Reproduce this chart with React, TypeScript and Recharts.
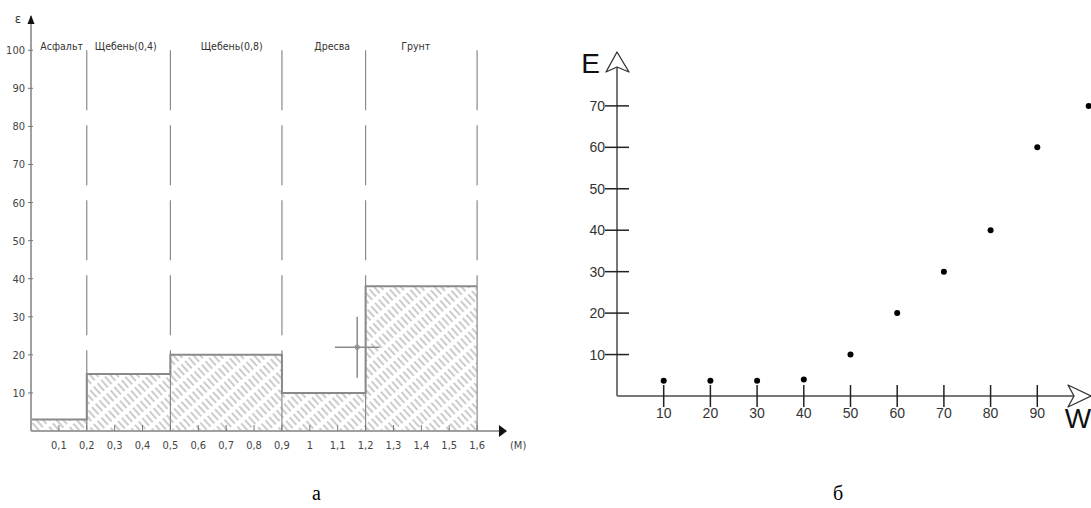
import React from 'react'
import {
  ComposedChart,
  ScatterChart,
  Area,
  Scatter,
  ErrorBar,
  XAxis,
  YAxis,
  ReferenceLine,
  ReferenceDot,
} from 'recharts'

// --- chart "а": layers along the depth ---
const layerNames = ['Асфальт', 'Щебень(0,4)', 'Щебень(0,8)', 'Дресва', 'Грунт']
const layerFrom = [0, 0.2, 0.5, 0.9, 1.2]
const layerTo = [0.2, 0.5, 0.9, 1.2, 1.6]
const layerEps = [3, 15, 20, 10, 38]
const layerLabelAt = [0.11, 0.34, 0.72, 1.08, 1.38]
const depthTicks = [0.1, 0.2, 0.3, 0.4, 0.5, 0.6, 0.7, 0.8, 0.9, 1, 1.1, 1.2, 1.3, 1.4, 1.5, 1.6]
const epsTicks = [10, 20, 30, 40, 50, 60, 70, 80, 90, 100]
const markDepth = [1.17]
const markEps = [22]
const markDepthErr = [0.08]
const markEpsErr = [8]

// --- chart "б": E against W ---
const moisture = [10, 20, 30, 40, 50, 60, 70, 80, 90, 101]
const modulus = [3.7, 3.7, 3.7, 4, 10, 20, 30, 40, 60, 70]
const wTicks = [10, 20, 30, 40, 50, 60, 70, 80, 90]
const eTicks = [10, 20, 30, 40, 50, 60, 70]

const narrow = "'Liberation Sans Narrow', 'DejaVu Sans Condensed', sans-serif"
const sans = "'Liberation Sans', Arial, sans-serif"

const stepData = layerFrom
  .map((x, i) => ({ x, h: layerEps[i] }))
  .concat({ x: layerTo[layerTo.length - 1], h: layerEps[layerEps.length - 1] })
const markData = markDepth.map((x, i) => ({ x, y: markEps[i], ex: markDepthErr[i], ey: markEpsErr[i] }))
const pointData = moisture.map((w, i) => ({ w, e: modulus[i] }))

const commaNum = (v: number) => String(v).replace('.', ',')

function LayersChart() {
  return (
    <ComposedChart width={540} height={470} margin={{ top: 16, right: 35, bottom: 0, left: 0 }}>
      <defs>
        <pattern id="hatch" patternUnits="userSpaceOnUse" width={5} height={14} patternTransform="rotate(-42)">
          <rect width={5} height={14} fill="#fff" />
          <line x1={1} y1={0} x2={1} y2={14} stroke="#9a9a9a" strokeWidth={1} strokeDasharray="10 4" />
        </pattern>
      </defs>
      <XAxis
        dataKey="x"
        type="number"
        domain={[0, 1.7]}
        ticks={depthTicks}
        height={39}
        tickSize={0}
        tickMargin={0}
        axisLine={{ stroke: '#a0a0a0', strokeWidth: 2 }}
        tickLine={false}
        allowDataOverflow
        tick={(p: any) => (
          <g>
            <line x1={p.x} y1={p.y - 6} x2={p.x} y2={p.y} stroke="#777" strokeWidth={1} />
            <text x={p.x} y={p.y + 18} textAnchor="middle" fontSize={11} fontFamily={narrow} fill="#444">
              {commaNum(p.payload.value)}
            </text>
          </g>
        )}
      />
      <YAxis
        type="number"
        domain={[0, 109]}
        ticks={epsTicks}
        width={31}
        tickSize={0}
        tickMargin={0}
        axisLine={{ stroke: '#a0a0a0', strokeWidth: 2 }}
        tickLine={false}
        allowDataOverflow
        tick={(p: any) => (
          <g>
            <line x1={p.x - 3} y1={p.y} x2={p.x + 2} y2={p.y} stroke="#777" strokeWidth={1} />
            <text x={p.x - 6} y={p.y + 4} textAnchor="end" fontSize={11} fontFamily={narrow} fill="#444">
              {p.payload.value}
            </text>
          </g>
        )}
      />
      <Area
        data={stepData}
        dataKey="h"
        type="stepAfter"
        stroke="#8a8a8a"
        strokeWidth={2}
        fill="url(#hatch)"
        fillOpacity={1}
        isAnimationActive={false}
      />
      {layerTo.map((b, i) => {
        const top = Math.max(layerEps[i], layerEps[i + 1] ?? 0)
        return (
          <React.Fragment key={b}>
            <ReferenceLine segment={[{ x: b, y: 0 }, { x: b, y: top }]} stroke="#8a8a8a" strokeWidth={1.2} ifOverflow="visible" />
            <ReferenceLine
              segment={[{ x: b, y: 100 }, { x: b, y: top }]}
              stroke="#8a8a8a"
              strokeWidth={1.2}
              strokeDasharray="60 15"
              ifOverflow="visible"
            />
          </React.Fragment>
        )
      })}
      {layerNames.map((name, i) => (
        <ReferenceDot
          key={name}
          x={layerLabelAt[i]}
          y={100}
          ifOverflow="visible"
          shape={(p: any) => (
            <text x={p.cx} y={p.cy} textAnchor="middle" fontSize={10.5} fontFamily={narrow} fill="#333">
              {name}
            </text>
          )}
        />
      ))}
      <Scatter
        data={markData}
        dataKey="y"
        isAnimationActive={false}
        shape={(p: any) => <circle cx={p.cx} cy={p.cy} r={2.2} fill="none" stroke="#8a8a8a" strokeWidth={1} />}
      >
        <ErrorBar dataKey="ex" direction="x" width={0} stroke="#8a8a8a" strokeWidth={1.5} isAnimationActive={false} />
        <ErrorBar dataKey="ey" direction="y" width={0} stroke="#8a8a8a" strokeWidth={1.5} isAnimationActive={false} />
      </Scatter>
      <ReferenceDot
        x={0}
        y={109}
        ifOverflow="visible"
        shape={(p: any) => (
          <g>
            <polygon points={`${p.cx},${p.cy - 1} ${p.cx - 3.5},${p.cy + 8} ${p.cx + 3.5},${p.cy + 8}`} fill="#111" />
            <text x={p.cx - 13} y={p.cy + 7} textAnchor="middle" fontSize={13} fontFamily={narrow} fill="#333">
              ε
            </text>
          </g>
        )}
      />
      <ReferenceDot
        x={1.7}
        y={0}
        ifOverflow="visible"
        shape={(p: any) => (
          <g>
            <polygon points={`${p.cx + 2},${p.cy} ${p.cx - 6},${p.cy - 6} ${p.cx - 6},${p.cy + 6}`} fill="#111" />
            <text x={p.cx + 5} y={p.cy + 18} fontSize={11} fontFamily={narrow} fill="#444">
              (M)
            </text>
          </g>
        )}
      />
    </ComposedChart>
  )
}

function ModulusChart() {
  return (
    <ScatterChart width={546} height={470} margin={{ top: 52, right: 0, bottom: 0, left: 0 }}>
      <XAxis
        dataKey="w"
        type="number"
        domain={[0, 101.5]}
        ticks={wTicks}
        height={74}
        tickSize={0}
        tickMargin={0}
        tickLine={false}
        allowDataOverflow
        axisLine={{ stroke: '#777', strokeWidth: 2 }}
        tick={(p: any) => (
          <g>
            <line x1={p.x} y1={p.y - 11} x2={p.x} y2={p.y + 11} stroke="#222" strokeWidth={1.5} />
            <text x={p.x} y={p.y + 22} textAnchor="middle" fontSize={14} fontFamily={sans} fill="#333">
              {p.payload.value}
            </text>
          </g>
        )}
      />
      <YAxis
        dataKey="e"
        type="number"
        domain={[0, 83]}
        ticks={eTicks}
        width={72}
        tickSize={0}
        tickMargin={0}
        tickLine={false}
        allowDataOverflow
        axisLine={{ stroke: '#777', strokeWidth: 2 }}
        tick={(p: any) => (
          <g>
            <line x1={p.x - 12} y1={p.y} x2={p.x + 12} y2={p.y} stroke="#222" strokeWidth={1.5} />
            <text x={p.x - 12} y={p.y + 5} textAnchor="end" fontSize={14} fontFamily={sans} fill="#333">
              {p.payload.value}
            </text>
          </g>
        )}
      />
      <Scatter
        data={pointData}
        isAnimationActive={false}
        shape={(p: any) => <circle cx={p.cx} cy={p.cy} r={3} fill="#000" />}
      />
      <ReferenceDot
        x={0}
        y={83}
        ifOverflow="visible"
        shape={(p: any) => (
          <g>
            <polygon
              points={`${p.cx},${p.cy} ${p.cx - 11},${p.cy + 20} ${p.cx},${p.cy + 15} ${p.cx + 12},${p.cy + 20}`}
              fill="#fff"
              stroke="#333"
              strokeWidth={1.3}
              strokeLinejoin="round"
            />
            <text x={p.cx - 17} y={p.cy + 21} textAnchor="end" fontSize={28} fontFamily={sans} fill="#111">
              E
            </text>
          </g>
        )}
      />
      <ReferenceDot
        x={101.5}
        y={0}
        ifOverflow="visible"
        shape={(p: any) => (
          <g>
            <polygon
              points={`${p.cx},${p.cy} ${p.cx - 23},${p.cy - 11} ${p.cx - 17},${p.cy} ${p.cx - 23},${p.cy + 11}`}
              fill="#fff"
              stroke="#333"
              strokeWidth={1.3}
              strokeLinejoin="round"
            />
            <text x={p.cx - 13} y={p.cy + 32} textAnchor="middle" fontSize={28} fontFamily={sans} fill="#111">
              W
            </text>
          </g>
        )}
      />
    </ScatterChart>
  )
}

export default function App() {
  return (
    <div style={{ position: 'absolute', left: 0, top: 0, width: 1091, height: 508, background: '#fff', overflow: 'hidden' }}>
      <div style={{ position: 'absolute', left: 0, top: 0 }}>
        <LayersChart />
      </div>
      <div style={{ position: 'absolute', left: 545, top: 0 }}>
        <ModulusChart />
      </div>
      <div style={{ position: 'absolute', left: 312, top: 483, fontSize: 20, lineHeight: '20px', fontFamily: "'Liberation Serif', serif" }}>
        а
      </div>
      <div style={{ position: 'absolute', left: 833, top: 483, fontSize: 20, lineHeight: '20px', fontFamily: "'Liberation Serif', serif" }}>
        б
      </div>
    </div>
  )
}
